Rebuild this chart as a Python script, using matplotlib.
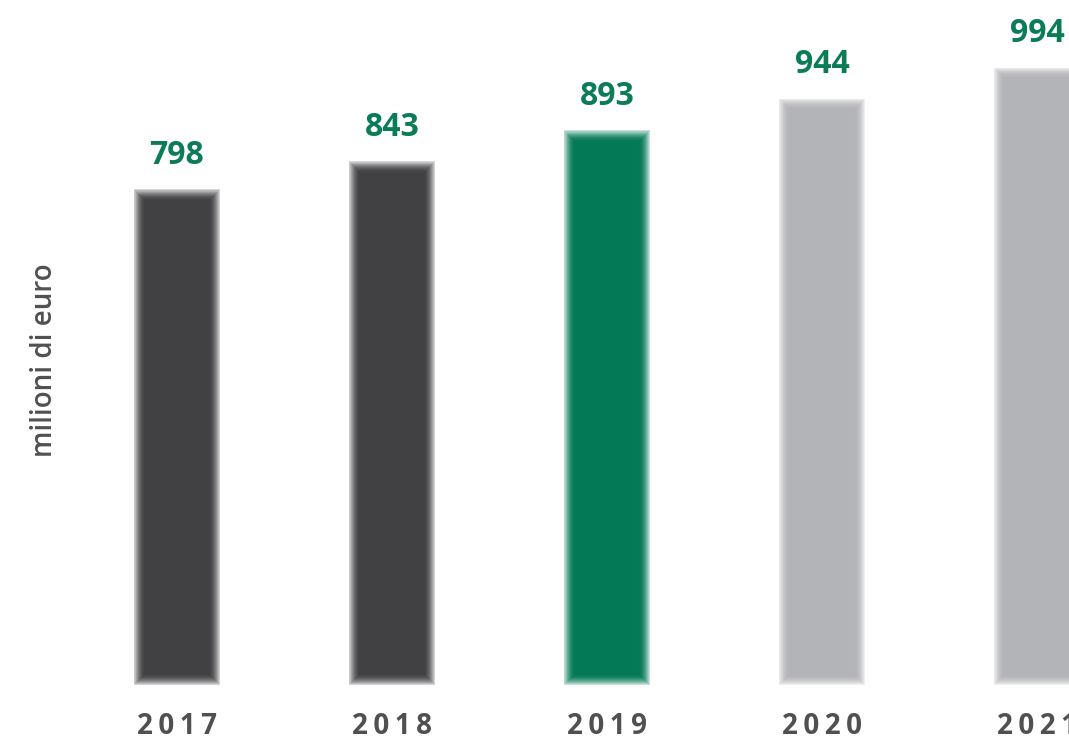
import matplotlib
matplotlib.use("Agg")
import matplotlib.pyplot as plt

years = ["2017", "2018", "2019", "2020", "2021"]
values = [798, 843, 893, 944, 994]
bar_colors = ["#414143", "#414143", "#037a55", "#b3b4b7", "#b3b4b7"]
label_color = "#0b7c57"
text_gray = "#505050"

fig = plt.figure(figsize=(10.69, 7.43), dpi=100)
ax = fig.add_axes([0, 0, 1, 1])
ax.set_xlim(-0.823, 4.149)
ax.set_ylim(-93.4, 1103)
ax.axis("off")

px_x = 1 / 215.0   # data units per pixel in x
px_y = 1 / 0.621   # data units per pixel in y
width = 86 * px_x
glow = 12  # pixels of inner soft edge
n = 24
c0 = 0.22
x = list(range(len(years)))
prev = 0.0
for k in range(n):
    t = k / (n - 1)
    s = 1 - (1 - t) ** 2
    target = c0 + (1 - c0) * s
    a = (target - prev) / (1 - prev) if prev < 1 else 0
    prev = target
    inset = glow * t
    ax.bar(x, [v - 2 * inset * px_y for v in values], width=width - 2 * inset * px_x,
           bottom=inset * px_y, color=bar_colors, alpha=min(a, 1.0), linewidth=0)

for xi, v in zip(x, values):
    ax.text(xi, v + 34 * px_y, str(v), ha="center", va="center",
            fontsize=23, fontweight="bold", color=label_color,
            family=["Open Sans", "DejaVu Sans"])

for xi, yl in zip(x, years):
    ax.text(xi, -42 * px_y, "\u2009".join(yl), ha="center", va="center",
            fontsize=20, fontweight="bold", color=text_gray,
            family=["Open Sans", "DejaVu Sans"])

fig.text(45 / 1069, 1 - 360 / 743, "milioni di euro", rotation=90,
         ha="center", va="center", fontsize=20, fontweight="semibold",
         color=text_gray, family=["Open Sans", "DejaVu Sans"])

fig.savefig("out.png", dpi=100)
